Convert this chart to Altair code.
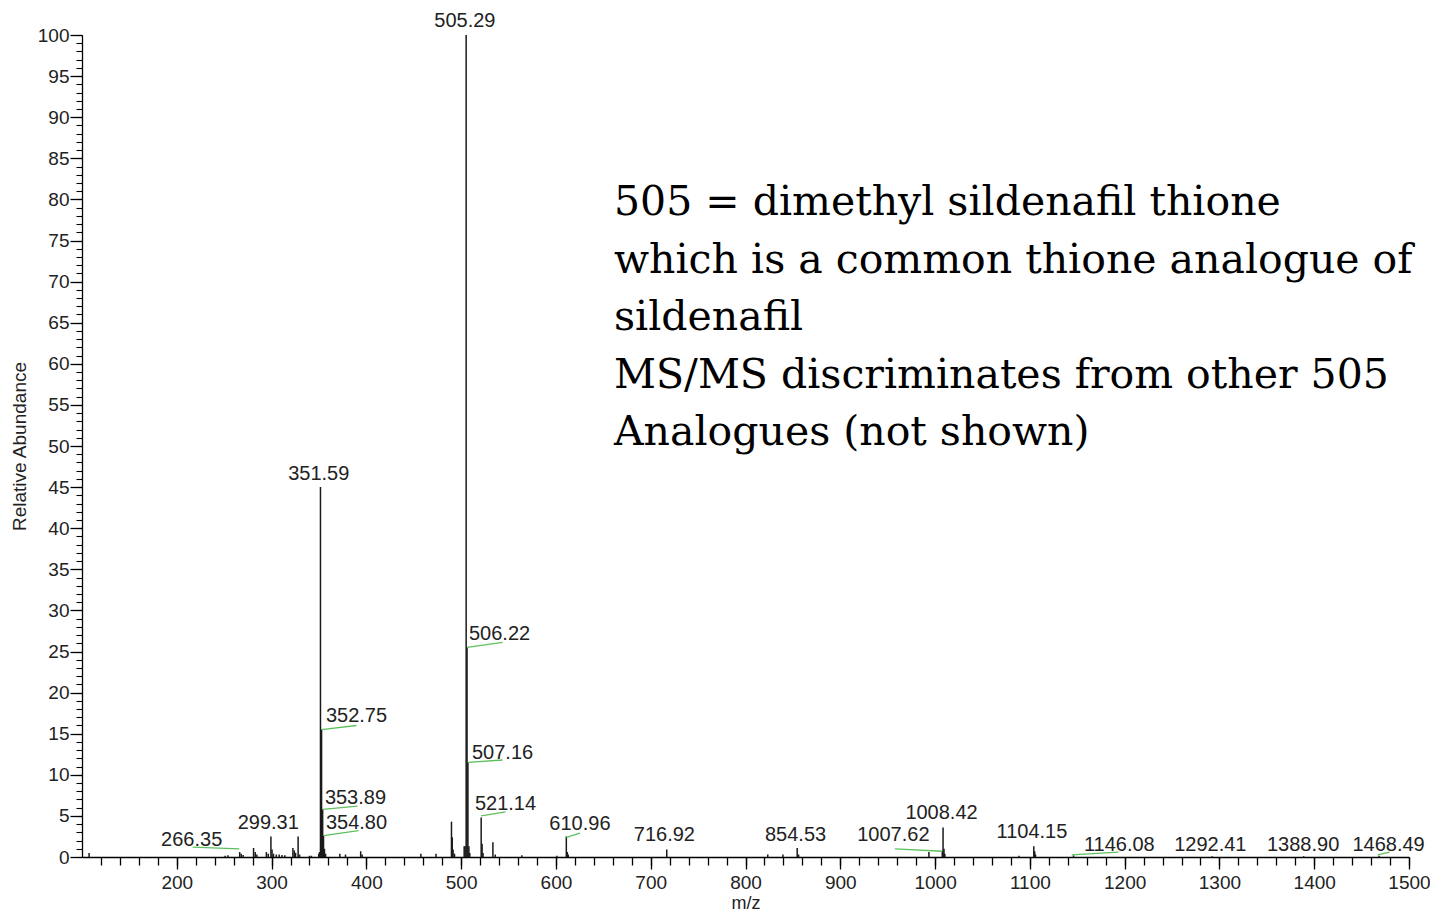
import altair as alt
import pandas as pd

# ---------------- data ----------------
peak_mz = [107.5, 251.0, 254.0, 266.35, 268.0, 270.0, 281.0, 282.8, 284.5, 294.5, 296.5,
           299.31, 300.5, 302.0, 305.0, 308.0, 311.0, 314.0, 322.5, 324.0, 325.3, 328.0,
           329.5, 340.0, 342.0, 349.8, 350.6, 351.59, 352.75, 353.89, 354.80, 355.8, 357.0,
           372.0, 378.0, 394.0, 395.5, 457.5, 473.5, 489.8, 490.6, 491.5, 493.0, 503.2,
           504.2, 505.29, 506.22, 507.16, 508.2, 509.1, 521.14, 522.1, 523.1, 533.5, 536.0,
           564.0, 601.0, 610.96, 612.0, 613.0, 716.92, 823.5, 839.5, 854.53, 856.0, 993.5,
           1007.62, 1008.42, 1009.4, 1010.3, 1088.5, 1104.15, 1105.1, 1106.0, 1146.08,
           1292.41, 1388.90, 1468.49]
peak_int = [0.5, 0.15, 0.2, 0.6, 0.4, 0.25, 1.1, 0.6, 0.3, 0.6, 0.4,
            2.5, 0.9, 0.4, 0.3, 0.3, 0.25, 0.2, 1.1, 0.8, 0.5, 2.5,
            0.3, 0.15, 0.15, 0.4, 0.6, 45.0, 15.5, 5.8, 2.6, 1.0, 0.4,
            0.4, 0.3, 0.7, 0.3, 0.4, 0.4, 4.3, 2.4, 0.9, 0.4, 1.3,
            1.3, 100.0, 25.5, 11.5, 1.3, 0.5, 4.8, 1.6, 0.5, 1.8, 0.3,
            0.2, 0.15, 2.5, 0.6, 0.3, 0.9, 0.3, 0.3, 1.1, 0.3, 0.6,
            0.7, 3.6, 1.0, 0.4, 0.15, 1.3, 0.7, 0.3, 0.2,
            0.1, 0.1, 0.15]

label_text = ["505.29", "351.59", "506.22", "352.75", "507.16", "353.89", "354.80",
              "521.14", "610.96", "716.92", "854.53", "1007.62", "1008.42", "1104.15",
              "1146.08", "1292.41", "1388.90", "1468.49", "266.35", "299.31"]
label_x = [503.9, 349.8, 540.5, 389.6, 543.7, 388.5, 389.6,
           546.8, 625.3, 714.4, 852.8, 956.0, 1006.8, 1102.2,
           1194.4, 1290.4, 1388.3, 1478.4, 215.7, 296.5]
label_y = [101.7, 46.6, 27.1, 17.1, 12.7, 7.2, 4.1,
           6.4, 4.0, 2.7, 2.7, 2.7, 5.35, 3.0,
           1.4, 1.4, 1.4, 1.4, 2.1, 4.1]

conn_x1 = [506.22, 352.75, 507.16, 353.89, 354.80, 521.14, 610.96, 957.6, 1144.2, 1466.9, 216.7]
conn_y1 = [25.5, 15.5, 11.5, 5.8, 2.6, 5.0, 2.4, 1.0, 0.25, 0.25, 1.2]
conn_x2 = [543.7, 389.6, 543.7, 390.7, 391.7, 546.8, 625.4, 1007.62, 1193.5, 1479.5, 266.0]
conn_y2 = [26.1, 16.0, 11.8, 6.2, 3.2, 5.5, 2.9, 0.7, 0.6, 0.6, 1.0]

note_lines = ["505 = dimethyl sildenafil thione",
              "which is a common thione analogue of",
              "sildenafil",
              "MS/MS discriminates from other 505",
              "Analogues (not shown)"]

x_major = list(range(200, 1501, 100))
x_minor = list(range(120, 1501, 20))
y_major = list(range(0, 101, 5))
y_minor = list(range(0, 101, 1))

peaks = pd.DataFrame({"mz": peak_mz, "inten": peak_int})
labels = pd.DataFrame({"lx": label_x, "ly": label_y, "t": label_text})
conns = pd.DataFrame({"x1": conn_x1, "y1": conn_y1, "x2": conn_x2, "y2": conn_y2})

XD = [100, 1500]
YD = [0, 100]
SANS = "Liberation Sans"
TXT = "#222222"


def xs():
    return alt.Scale(domain=XD, nice=False, zero=False)


def ys():
    return alt.Scale(domain=YD, nice=False, zero=False)


major = alt.Chart(peaks).mark_rule(color="#1a1a1a", strokeWidth=1.5).encode(
    x=alt.X("mz:Q", scale=xs(), title="m/z",
            axis=alt.Axis(values=x_major, orient="bottom", tickSize=12, labelPadding=4,
                          format="d",
                          labelFontSize=19, labelFont=SANS, labelColor=TXT,
                          titleFont=SANS, titleFontSize=18, titleFontWeight="normal",
                          titleColor=TXT, titlePadding=2, grid=False,
                          domainColor="#000000", tickColor="#000000", domainWidth=1.3,
                          tickWidth=1.3, labelFlush=False)),
    y=alt.Y("inten:Q", scale=ys(), title="Relative Abundance",
            axis=alt.Axis(values=y_major, orient="left", tickSize=12, labelPadding=1,
                          format="d",
                          labelFontSize=19, labelFont=SANS, labelColor=TXT,
                          titleFont=SANS, titleFontSize=19, titleFontWeight="normal",
                          titleColor=TXT, titlePadding=8, grid=False,
                          domainColor="#000000", tickColor="#000000", domainWidth=1.3,
                          tickWidth=1.3, labelFlush=False)),
    y2=alt.datum(0),
)

minor = alt.Chart(peaks).mark_point(opacity=0).encode(
    x=alt.X("mz:Q", scale=xs(), title=None,
            axis=alt.Axis(values=x_minor, orient="bottom", tickSize=8, labels=False,
                          domain=False, grid=False, tickColor="#000000", tickWidth=1.3)),
    y=alt.Y("inten:Q", scale=ys(), title=None,
            axis=alt.Axis(values=y_minor, orient="left", tickSize=6, labels=False,
                          domain=False, grid=False, tickColor="#000000", tickWidth=1.1)),
)

connectors = alt.Chart(conns).mark_rule(color="#5cc05c", strokeWidth=1.3).encode(
    x=alt.X("x1:Q", scale=xs(), axis=None),
    y=alt.Y("y1:Q", scale=ys(), axis=None),
    x2="x2:Q",
    y2="y2:Q",
)

texts = alt.Chart(labels).mark_text(font=SANS, fontSize=20, color=TXT,
                                    align="center", baseline="middle").encode(
    x=alt.X("lx:Q", scale=xs(), axis=None),
    y=alt.Y("ly:Q", scale=ys(), axis=None),
    text="t:N",
)

note = alt.Chart(pd.DataFrame({"k": [0]})).mark_text(
    text=note_lines, font="DejaVu Serif", fontSize=41, lineHeight=57.5,
    align="left", baseline="alphabetic", color="#000000"
).encode(x=alt.value(532), y=alt.value(180))

chart = alt.layer(major, minor, connectors, texts, note).resolve_scale(
    x="independent", y="independent"
).properties(
    width=1327, height=822,
    background="white",
    autosize=alt.AutoSizeParams(type="none"),
    padding={"left": 74, "top": 27, "right": 21, "bottom": 54},
).configure_view(stroke=None)

chart.save("out.html", embed_options={"renderer": "svg", "actions": False})
